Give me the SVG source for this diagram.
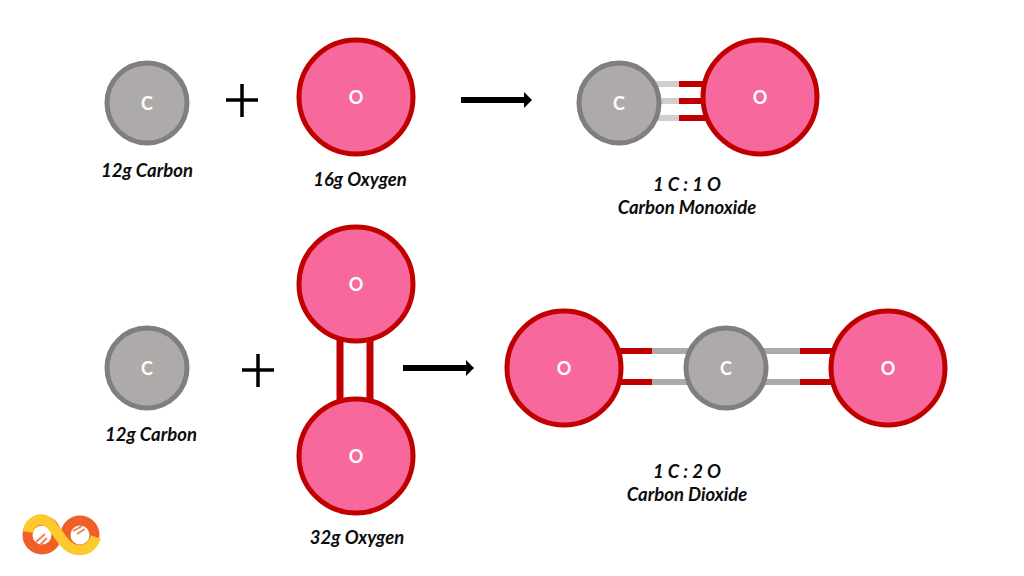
<svg xmlns="http://www.w3.org/2000/svg" width="1024" height="576" viewBox="0 0 1024 576">
<style>
.c{fill:#aeaaaa;stroke:#7f7f7f;stroke-width:5}
.o{fill:#f7699c;stroke:#c00000;stroke-width:5}
.a{font:bold 18px Lato,"Liberation Sans",sans-serif;fill:#fff;text-anchor:middle}
.l{font:italic bold 18.5px Lato,"Liberation Sans",sans-serif;fill:#0d0d0d;text-anchor:middle}
.r{stroke:#c00000;fill:none}
.g{stroke:#d0cece;fill:none}
.g2{stroke:#aeaaaa;fill:none}
.k{stroke:#000;fill:none}
</style>
<defs>
<marker id="h" markerUnits="userSpaceOnUse" markerWidth="9" markerHeight="16" refX="1" refY="8" orient="auto"><path d="M0 0L8 8L0 16z" fill="#000"/></marker>
</defs>
<g id="connectors">
<g stroke-width="6">
<path class="g" d="M655 84H680M655 101H680M655 118H680"/>
<path class="r" d="M679 84H708M679 101H708M679 118H708"/>
<path class="g2" d="M650 351H690M650 382H690M762 351H802M762 382H802"/>
<path class="r" d="M618 351H652M618 382H652M800 351H834M800 382H834"/>
<path class="r" d="M340 335V405M370 335V405" stroke-width="7"/>
</g>
<g stroke-width="6">
<path class="k" d="M461 100H525" marker-end="url(#h)"/>
<path class="k" d="M403 368H467" marker-end="url(#h)"/>
</g>
<g stroke-width="3.5">
<path class="k" d="M226 100H258M242 84V117"/>
<path class="k" d="M242 370H274M258 354V387"/>
</g>
</g>
<g id="n1"><circle class="c" cx="147" cy="103" r="40"/><text class="a" x="147" y="110">C</text></g>
<g id="n2"><circle class="o" cx="356" cy="97" r="57"/><text class="a" x="356" y="104">O</text></g>
<g id="n3"><circle class="c" cx="619" cy="103" r="40"/><text class="a" x="619" y="110">C</text></g>
<g id="n4"><circle class="o" cx="760" cy="97" r="57"/><text class="a" x="760" y="104">O</text></g>
<g id="n5"><circle class="c" cx="147" cy="368" r="40"/><text class="a" x="147" y="375">C</text></g>
<g id="n6"><circle class="o" cx="356" cy="284" r="57"/><text class="a" x="356" y="291">O</text></g>
<g id="n7"><circle class="o" cx="356" cy="456" r="57"/><text class="a" x="356" y="463">O</text></g>
<g id="n8"><circle class="o" cx="564" cy="368" r="57"/><text class="a" x="564" y="375">O</text></g>
<g id="n9"><circle class="c" cx="726" cy="368" r="40"/><text class="a" x="726" y="375">C</text></g>
<g id="n10"><circle class="o" cx="888" cy="368" r="57"/><text class="a" x="888" y="375">O</text></g>
<g id="labels">
<text class="l" x="147" y="177">12g Carbon</text>
<text class="l" x="360" y="186">16g Oxygen</text>
<text class="l" x="687" y="191">1 C : 1 O</text>
<text class="l" x="687" y="214">Carbon Monoxide</text>
<text class="l" x="151" y="440.500">12g Carbon</text>
<text class="l" x="357" y="544">32g Oxygen</text>
<text class="l" x="687" y="478">1 C : 2 O</text>
<text class="l" x="687" y="500.500">Carbon Dioxide</text>
</g>
<g id="logo" fill="none">
<circle cx="42" cy="535" r="14.5" stroke="#ef5f27" stroke-width="10"/>
<circle cx="80" cy="535" r="14.5" stroke="#ef5f27" stroke-width="10"/>
<path d="M28 532C30 520 41 517 48 522C57 528 63 549 78 550C87 551 93 545 96 537" stroke="#fdc92f" stroke-width="10.5"/>
<path d="M36 542L45 534M40 545L47 538M73 531L82 526M77 534L85 529" stroke="#ef7f4f" stroke-width="1.8"/>
</g>
</svg>
